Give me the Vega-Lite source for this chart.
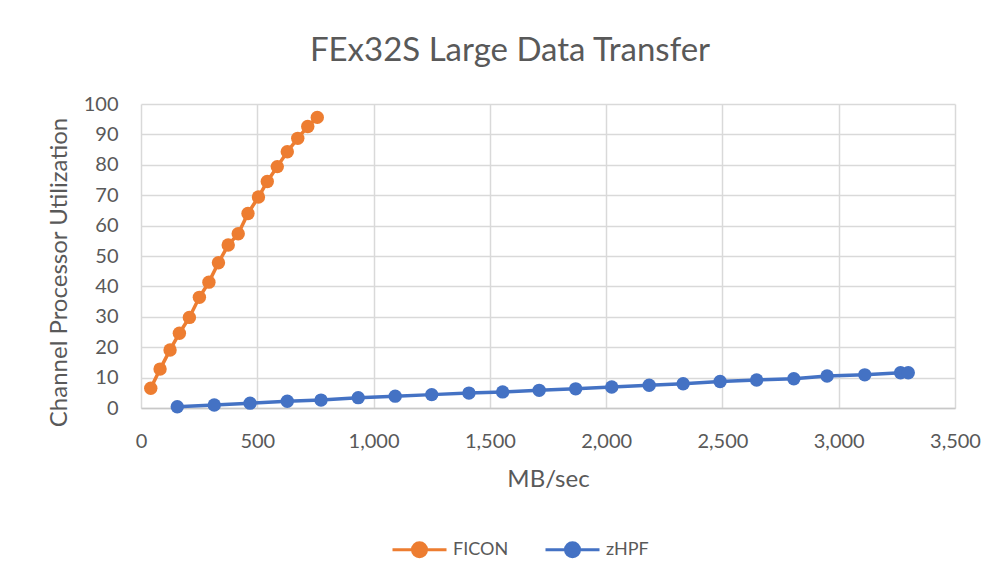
{
  "$schema": "https://vega.github.io/schema/vega-lite/v6.json",
  "width": 814,
  "height": 304,
  "autosize": {"type": "none"},
  "padding": {"left": 141, "top": 104, "right": 46, "bottom": 176},
  "background": "white",
  "title": {
    "text": "FEx32S Large Data Transfer",
    "font": "Lato",
    "fontSize": 33,
    "fontWeight": "normal",
    "color": "#595959",
    "anchor": "middle",
    "dx": -38,
    "offset": 0,
    "baseline": "alphabetic"
  },
  "data": {
    "values": [
      {"series": "FICON", "mbps": 42, "util": 6.5},
      {"series": "FICON", "mbps": 82, "util": 12.8},
      {"series": "FICON", "mbps": 125, "util": 19.1},
      {"series": "FICON", "mbps": 165, "util": 24.6},
      {"series": "FICON", "mbps": 208, "util": 29.8},
      {"series": "FICON", "mbps": 251, "util": 36.4},
      {"series": "FICON", "mbps": 292, "util": 41.4},
      {"series": "FICON", "mbps": 333, "util": 47.8},
      {"series": "FICON", "mbps": 375, "util": 53.6},
      {"series": "FICON", "mbps": 418, "util": 57.3},
      {"series": "FICON", "mbps": 460, "util": 64.0},
      {"series": "FICON", "mbps": 505, "util": 69.4},
      {"series": "FICON", "mbps": 543, "util": 74.5},
      {"series": "FICON", "mbps": 586, "util": 79.4},
      {"series": "FICON", "mbps": 629, "util": 84.3},
      {"series": "FICON", "mbps": 674, "util": 88.7},
      {"series": "FICON", "mbps": 717, "util": 92.6},
      {"series": "FICON", "mbps": 758, "util": 95.6},
      {"series": "zHPF", "mbps": 156, "util": 0.4},
      {"series": "zHPF", "mbps": 315, "util": 1.0},
      {"series": "zHPF", "mbps": 469, "util": 1.6},
      {"series": "zHPF", "mbps": 629, "util": 2.2},
      {"series": "zHPF", "mbps": 774, "util": 2.6},
      {"series": "zHPF", "mbps": 934, "util": 3.4},
      {"series": "zHPF", "mbps": 1093, "util": 3.9},
      {"series": "zHPF", "mbps": 1250, "util": 4.4},
      {"series": "zHPF", "mbps": 1410, "util": 4.9},
      {"series": "zHPF", "mbps": 1555, "util": 5.3},
      {"series": "zHPF", "mbps": 1712, "util": 5.8},
      {"series": "zHPF", "mbps": 1869, "util": 6.3},
      {"series": "zHPF", "mbps": 2024, "util": 6.9},
      {"series": "zHPF", "mbps": 2185, "util": 7.5},
      {"series": "zHPF", "mbps": 2331, "util": 8.0},
      {"series": "zHPF", "mbps": 2490, "util": 8.7},
      {"series": "zHPF", "mbps": 2647, "util": 9.2},
      {"series": "zHPF", "mbps": 2807, "util": 9.6},
      {"series": "zHPF", "mbps": 2950, "util": 10.5},
      {"series": "zHPF", "mbps": 3112, "util": 10.9},
      {"series": "zHPF", "mbps": 3266, "util": 11.6},
      {"series": "zHPF", "mbps": 3299, "util": 11.6}
    ]
  },
  "encoding": {
    "x": {
      "field": "mbps",
      "type": "quantitative",
      "scale": {"domain": [0, 3500], "nice": false, "zero": true},
      "axis": {
        "title": "MB/sec",
        "values": [0, 500, 1000, 1500, 2000, 2500, 3000, 3500],
        "format": ",d",
        "labelFont": "Lato",
        "labelFontSize": 20,
        "labelColor": "#595959",
        "labelPadding": 23,
        "ticks": false,
        "domainColor": "#c8c8c8",
        "domainWidth": 1.5,
        "grid": true,
        "gridColor": "#d9d9d9",
        "gridWidth": 1.5,
        "titleFont": "Lato",
        "titleFontSize": 24,
        "titleFontWeight": "normal",
        "titleColor": "#595959",
        "titlePadding": 16,
        "labelFlush": false,
        "labelOverlap": false
      }
    },
    "y": {
      "field": "util",
      "type": "quantitative",
      "scale": {"domain": [0, 100], "nice": false},
      "axis": {
        "title": "Channel Processor Utilization",
        "values": [0, 10, 20, 30, 40, 50, 60, 70, 80, 90, 100],
        "labelFont": "Lato",
        "labelFontSize": 20,
        "labelColor": "#595959",
        "labelPadding": 23,
        "ticks": false,
        "domain": false,
        "grid": true,
        "gridColor": "#d9d9d9",
        "gridWidth": 1.5,
        "titleFont": "Lato",
        "titleFontSize": 24,
        "titleFontWeight": "normal",
        "titleColor": "#595959",
        "titlePadding": 12,
        "titleY": 168,
        "labelFlush": false,
        "labelOverlap": false
      }
    },
    "color": {
      "field": "series",
      "type": "nominal",
      "scale": {"domain": ["FICON", "zHPF"], "range": ["#ED7D31", "#4472C4"]},
      "legend": {
        "title": null,
        "orient": "none",
        "direction": "horizontal",
        "legendX": 250,
        "legendY": 417,
        "padding": 0,
        "symbolType": "M-1,0L1,0M-0.26,0A0.26,0.26 0 1,1 0.26,0A0.26,0.26 0 1,1 -0.26,0",
        "symbolSize": 2916,
        "symbolStrokeWidth": 3,
        "symbolOpacity": 1,
        "labelFont": "Lato",
        "labelFontSize": 18,
        "labelColor": "#595959",
        "labelOffset": 5,
        "columnPadding": 30
      }
    }
  },
  "layer": [
    {"mark": {"type": "line", "strokeWidth": 3.5}},
    {"mark": {"type": "point", "filled": true, "opacity": 1, "size": 180}}
  ],
  "config": {
    "view": {"stroke": null},
    "legend": {"symbolFillColor": null}
  }
}
